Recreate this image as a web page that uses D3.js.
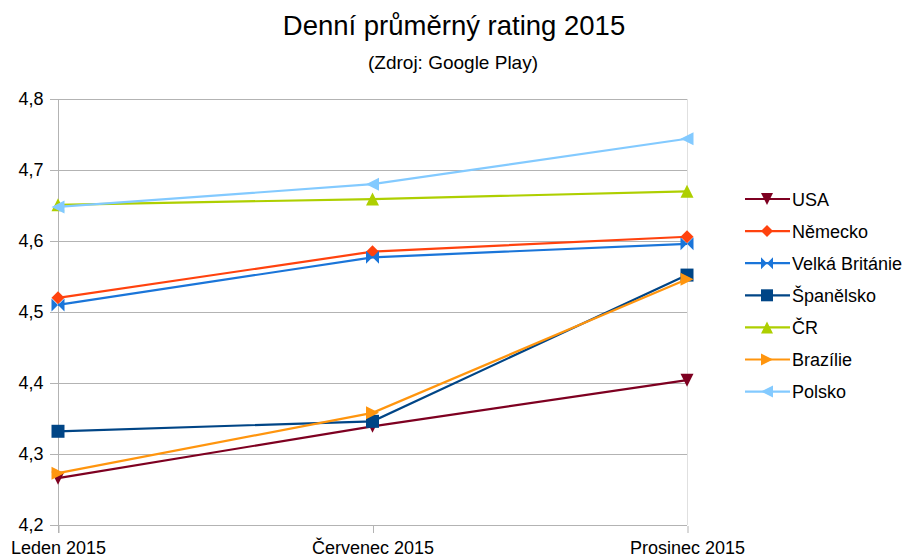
<!DOCTYPE html>
<html>
<head>
<meta charset="utf-8">
<script src="https://cdn.jsdelivr.net/npm/d3@7"></script>
<style>
  body { margin: 0; background: #fff; }
  text { font-family: "Liberation Sans", Arial, sans-serif; fill: #000; }
</style>
</head>
<body>
<div id="chart"></div>
<script>
// data
const months = ["Leden 2015", "Červenec 2015", "Prosinec 2015"];
const usa = [4.266, 4.339, 4.404];
const nemecko = [4.520, 4.585, 4.606];
const britanie = [4.510, 4.577, 4.596];
const spanelsko = [4.332, 4.346, 4.552];
const cr = [4.651, 4.659, 4.670];
const brazilie = [4.273, 4.358, 4.546];
const polsko = [4.648, 4.680, 4.744];
const yTicks = [4.2, 4.3, 4.4, 4.5, 4.6, 4.7, 4.8];

const series = [
  {name: "USA", values: usa, color: "#7e0021", marker: "down"},
  {name: "Německo", values: nemecko, color: "#ff420e", marker: "diamond"},
  {name: "Velká Británie", values: britanie, color: "#1a75d9", marker: "bowtie"},
  {name: "Španělsko", values: spanelsko, color: "#004586", marker: "square"},
  {name: "ČR", values: cr, color: "#aecf00", marker: "up"},
  {name: "Brazílie", values: brazilie, color: "#ff950e", marker: "right"},
  {name: "Polsko", values: polsko, color: "#83caff", marker: "left"}
];

const W = 904, H = 557;
const svg = d3.select("#chart").append("svg")
  .attr("width", W).attr("height", H);

const x = d3.scalePoint().domain(months).range([58, 687]);
const y = d3.scaleLinear().domain([4.2, 4.8]).range([525, 99]);

// title
svg.append("text").attr("x", 454).attr("y", 35)
  .attr("text-anchor", "middle").style("font-size", "27.5px")
  .text("Denní průměrný rating 2015");
svg.append("text").attr("x", 453).attr("y", 69)
  .attr("text-anchor", "middle").style("font-size", "19px")
  .text("(Zdroj: Google Play)");

// grid
svg.append("g").selectAll("line").data(yTicks).join("line")
  .attr("x1", 50).attr("x2", 687)
  .attr("y1", d => Math.round(y(d)) + 0.5).attr("y2", d => Math.round(y(d)) + 0.5)
  .attr("stroke", "#b3b3b3").attr("stroke-width", 1);

svg.append("line")
  .attr("x1", 687.5).attr("x2", 687.5).attr("y1", 99).attr("y2", 525)
  .attr("stroke", "#e0e0e0");

// axes
const yAxis = svg.append("g").attr("transform", "translate(58.5,0)")
  .call(d3.axisLeft(y).tickValues(yTicks).tickSize(0).tickPadding(15)
    .tickFormat(d => d3.format(".1f")(d).replace(".", ",")));
yAxis.select(".domain").remove();
yAxis.selectAll("text").style("font-size", "18px")
  .style("font-family", "Liberation Sans, Arial, sans-serif");

svg.append("line")
  .attr("x1", 58.5).attr("x2", 58.5).attr("y1", 99).attr("y2", 533)
  .attr("stroke", "#b3b3b3");

const xAxis = svg.append("g").attr("transform", "translate(0,526)")
  .call(d3.axisBottom(x).tickSize(7).tickPadding(8));
xAxis.select(".domain").remove();
xAxis.selectAll("line").attr("stroke", "#b3b3b3").attr("transform", "translate(0.5,0)");
xAxis.selectAll("text").style("font-size", "18px")
  .style("font-family", "Liberation Sans, Arial, sans-serif");

// markers
function markerPath(type, s) {
  const h = s / 2;
  switch (type) {
    case "down": return `M${-h},${-h}L${h},${-h}L0,${h}Z`;
    case "up": return `M${-h},${h}L${h},${h}L0,${-h}Z`;
    case "right": return `M${-h},${-h}L${h},0L${-h},${h}Z`;
    case "left": return `M${h},${-h}L${-h},0L${h},${h}Z`;
    case "diamond": return `M0,${-h}L${h},0L0,${h}L${-h},0Z`;
    case "square": return `M${-h},${-h}H${h}V${h}H${-h}Z`;
    case "bowtie": return `M${-h},${-h}L${h},${h}L${h},${-h}L${-h},${h}Z`;
  }
}

const line = d3.line().x((d, i) => x(months[i])).y(d => y(d));

series.forEach(s => {
  svg.append("path").datum(s.values)
    .attr("fill", "none").attr("stroke", s.color).attr("stroke-width", 2.2)
    .attr("d", line);
  svg.append("g").selectAll("path").data(s.values).join("path")
    .attr("transform", (d, i) => `translate(${x(months[i])},${y(d)})`)
    .attr("d", markerPath(s.marker, 13))
    .attr("fill", s.color);
});

// legend
const legend = svg.append("g").attr("transform", "translate(745,199)");
series.forEach((s, i) => {
  const g = legend.append("g").attr("transform", `translate(0,${i * 32.1})`);
  g.append("line").attr("x1", 0).attr("x2", 45).attr("y1", 0).attr("y2", 0)
    .attr("stroke", s.color).attr("stroke-width", 2.2);
  g.append("path").attr("transform", "translate(22,0)")
    .attr("d", markerPath(s.marker, 12)).attr("fill", s.color);
  g.append("text").attr("x", 47).attr("y", 6.5).style("font-size", "18px").text(s.name);
});
</script>
</body>
</html>
